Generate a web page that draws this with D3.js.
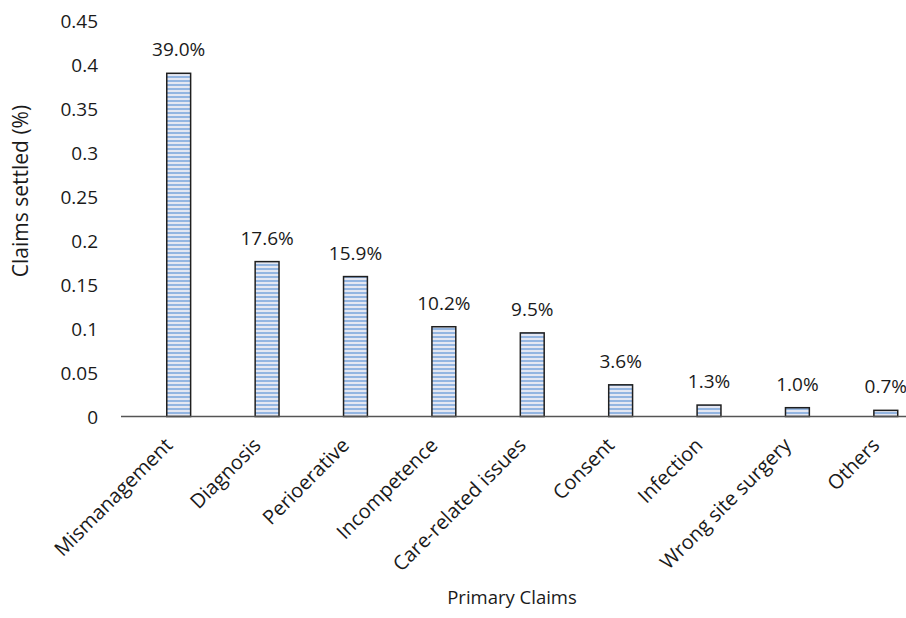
<!DOCTYPE html>
<html>
<head>
<meta charset="utf-8">
<script src="https://cdn.jsdelivr.net/npm/d3@7/dist/d3.min.js"></script>
<style>
  html, body { margin: 0; padding: 0; background: #fff; }
  svg { display: block; }
  text { font-family: "Open Sans", "Noto Sans", sans-serif; fill: #1a1a1a; }
</style>
</head>
<body>
<svg id="chart" width="906" height="618"></svg>
<script>
// Share of settled claims by primary claim type
const categories = ["Mismanagement", "Diagnosis", "Perioerative", "Incompetence",
  "Care-related issues", "Consent", "Infection", "Wrong site surgery", "Others"];
const shares = [0.390, 0.176, 0.159, 0.102, 0.095, 0.036, 0.013, 0.010, 0.007];
const yTicks = [0, 0.05, 0.1, 0.15, 0.2, 0.25, 0.3, 0.35, 0.4, 0.45];
const yTickLabels = ["0", "0.05", "0.1", "0.15", "0.2", "0.25", "0.3", "0.35", "0.4", "0.45"];
const valueLabels = ["39.0%", "17.6%", "15.9%", "10.2%", "9.5%", "3.6%", "1.3%", "1.0%", "0.7%"];

const svg = d3.select("#chart");

const x = d3.scaleBand().domain(categories).range([134.5, 930]).paddingInner(0.73).paddingOuter(0.365);
const y = d3.scaleLinear().domain([0, 0.45]).range([416.5, 20.5]);

// striped fill for the bars
const defs = svg.append("defs");
const pat = defs.append("pattern")
  .attr("id", "stripes").attr("patternUnits", "userSpaceOnUse")
  .attr("width", 8).attr("height", 4);
pat.append("rect").attr("width", 8).attr("height", 4).attr("fill", "#e4e7f2");
pat.append("rect").attr("width", 8).attr("height", 2).attr("fill", "#93b5e1");

// y tick labels (no axis line, no gridlines)
const yAxis = d3.axisLeft(y).tickValues(yTicks)
  .tickFormat((d, i) => yTickLabels[i]).tickSize(0).tickPadding(0);
const gy = svg.append("g").attr("transform", "translate(98,0)").call(yAxis);
gy.select(".domain").remove();
gy.selectAll("text").style("font-size", "19px").attr("dy", "0.35em")
  .style("font-family", "'Open Sans', sans-serif").attr("fill", "#1a1a1a");

// bars
svg.append("g").selectAll("rect").data(shares).join("rect")
  .attr("x", (d, i) => x(categories[i]))
  .attr("y", d => y(d))
  .attr("width", x.bandwidth())
  .attr("height", d => y(0) - y(d))
  .attr("fill", "url(#stripes)")
  .attr("stroke", "#1f1f1f").attr("stroke-width", 1.5);

// category axis line
svg.append("line").attr("x1", 121).attr("x2", 906)
  .attr("y1", y(0)).attr("y2", y(0))
  .attr("stroke", "#555").attr("stroke-width", 1.5);

// value labels
svg.append("g").selectAll("text").data(shares).join("text")
  .attr("x", (d, i) => x(categories[i]) + x.bandwidth() / 2)
  .attr("y", d => y(d) - 17)
  .attr("text-anchor", "middle")
  .style("font-size", "19px")
  .text((d, i) => valueLabels[i]);

// rotated category labels
svg.append("g").selectAll("text").data(categories).join("text")
  .attr("transform", d => `translate(${x(d) + x.bandwidth() / 2 - 5},${y(0) + 30}) rotate(-45)`)
  .attr("text-anchor", "end")
  .style("font-size", "20px")
  .text(d => d);

// axis titles
svg.append("text")
  .attr("transform", "translate(28,191) rotate(-90)")
  .attr("text-anchor", "middle")
  .style("font-size", "21px")
  .text("Claims settled (%)");

svg.append("text")
  .attr("x", 512).attr("y", 604)
  .attr("text-anchor", "middle")
  .style("font-size", "18.5px")
  .text("Primary Claims");
</script>
</body>
</html>
